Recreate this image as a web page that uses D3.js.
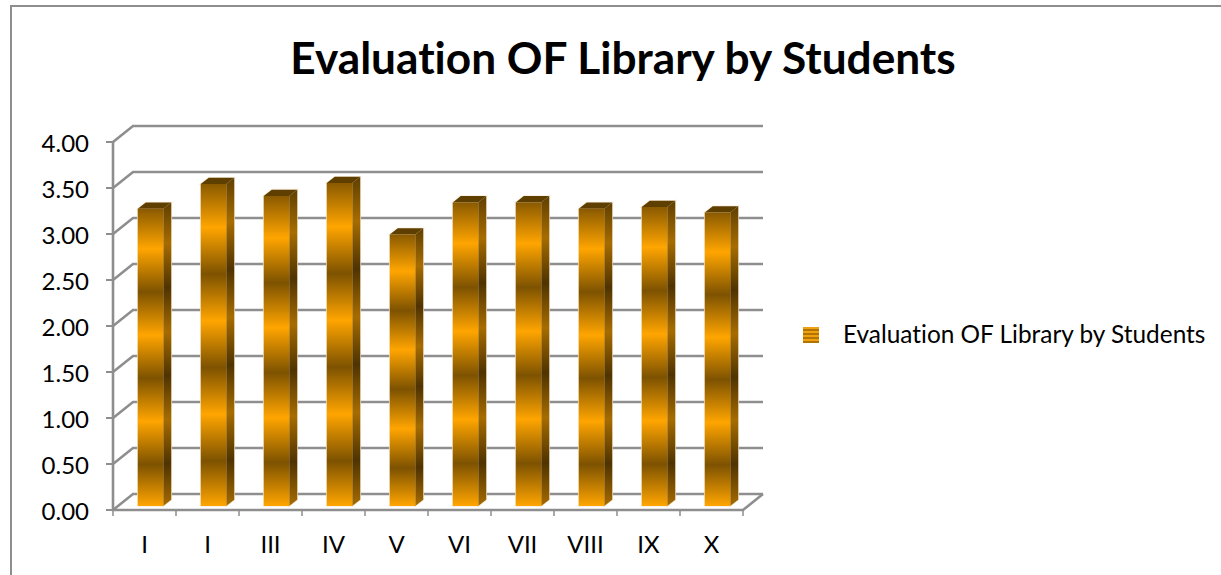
<!DOCTYPE html>
<html><head><meta charset="utf-8">
<script src="https://cdn.jsdelivr.net/npm/d3@7/dist/d3.min.js"></script>
<style>html,body{margin:0;padding:0;background:#fff}svg{display:block}text{font-family:Lato,"Open Sans",sans-serif;fill:#000;font-variant-ligatures:none}</style>
</head><body><div id="c"></div>
<script>
const categories = ["I","I","III","IV","V","VI","VII","VIII","IX","X"];
const values = [3.23,3.50,3.37,3.51,2.95,3.30,3.30,3.23,3.25,3.19];
const yTicks = [0,0.5,1,1.5,2,2.5,3,3.5,4];
const titleText = "Evaluation OF Library by Students";
const seriesName = "Evaluation OF Library by Students";

const W=1221,H=575;
const svg=d3.select("#c").append("svg").attr("width",W).attr("height",H);
const x=d3.scaleBand().domain(d3.range(categories.length)).range([113,743]);
const y=d3.scaleLinear().domain([0,4]).range([510,142]);
const depthX=20,depthY=-16,grey="#8e8e8e";

const defs=svg.append("defs");
const stopsFor=(id,dark,mid,light)=>{
  const g=defs.append("linearGradient").attr("id",id).attr("x1",0).attr("y1",0).attr("x2",0).attr("y2",1);
  [[0,mid],[.135,light],[.28,dark],[.425,light],[.57,dark],[.715,light],[.86,dark],[1,light]]
    .forEach(([o,c])=>g.append("stop").attr("offset",o).attr("stop-color",c));
};
stopsFor("front","#7d5200","#8a5a00","#ffa500");
stopsFor("side","#4f3300","#5f3f00","#a66c00");
const st=defs.append("pattern").attr("id","swatch").attr("patternUnits","userSpaceOnUse").attr("x",803).attr("y",327).attr("width",16).attr("height",4);
st.append("rect").attr("width",16).attr("height",4).attr("fill","#f0a010");
st.append("rect").attr("y",2).attr("width",16).attr("height",2).attr("fill","#b07400");

// chart frame (top and left edges visible)
svg.append("path").attr("d",`M11,575V6H${W}`).attr("fill","none").attr("stroke",grey).attr("stroke-width",2);

const g=svg.append("g");
yTicks.forEach(v=>{
  const yy=y(v);
  g.append("path").attr("fill","none").attr("stroke",grey).attr("stroke-width",2.6)
   .attr("d",`M113,${yy}L${113+depthX},${yy+depthY}H${743+depthX}`);
  g.append("line").attr("x1",106).attr("x2",113).attr("y1",yy).attr("y2",yy).attr("stroke",grey).attr("stroke-width",2);
});
g.append("path").attr("fill","none").attr("stroke",grey).attr("stroke-width",2.6)
 .attr("d",`M113,${y(4)}V${y(0)}H743L763,${y(0)+depthY}`);
d3.range(categories.length+1).forEach(i=>{
  const xx=i<categories.length?x(i):x.range()[1];
  g.append("line").attr("x1",xx).attr("x2",xx).attr("y1",y(0)).attr("y2",y(0)+6).attr("stroke",grey).attr("stroke-width",1.5);
});

// bars
const bw=25.5,dx=8,dy=-6.3,floorUp=4;
const bars=svg.append("g").selectAll("g").data(values).join("g");
const left=(d,i)=>x(i)+x.bandwidth()/2-bw/2+6;
const pts=a=>a.map(p=>p.join(",")).join(" ");
const sideP=(d,i)=>{const l=left(d,i)+bw,t=y(d)-floorUp,b=y(0)-floorUp;return pts([[l,t],[l+dx,t+dy],[l+dx,b+dy],[l,b]]);};
const topP=(d,i)=>{const l=left(d,i),t=y(d)-floorUp;return pts([[l,t],[l+dx,t+dy],[l+bw+dx,t+dy],[l+bw,t]]);};
const frontP=(d,i)=>{const l=left(d,i),t=y(d)-floorUp,b=y(0)-floorUp;return pts([[l,t],[l+bw,t],[l+bw,b],[l,b]]);};
// pale halo around each bar
[sideP,topP,frontP].forEach(f=>bars.append("polygon").attr("points",f).attr("fill","#f6ead6").attr("stroke","#f6ead6").attr("stroke-width",1.6).attr("stroke-opacity",.8));
bars.append("polygon").attr("fill","url(#side)").attr("points",sideP);
bars.append("polygon").attr("fill","#5f3f00").attr("points",topP);
bars.append("polygon").attr("fill","url(#front)").attr("points",frontP);

// labels
svg.append("g").selectAll("text").data(yTicks).join("text")
  .attr("x",89).attr("y",d=>y(d)).attr("text-anchor","end").attr("dominant-baseline","central")
  .attr("font-size",24).text(d=>d3.format(".2f")(d));
svg.append("g").selectAll("text").data(categories).join("text")
  .attr("x",(d,i)=>x(i)+x.bandwidth()/2).attr("y",553).attr("text-anchor","middle")
  .attr("font-size",24).text(d=>d);
svg.append("text").attr("x",623).attr("y",74).attr("text-anchor","middle").attr("font-size",44.2).attr("font-weight",700).text(titleText);
svg.append("rect").attr("x",803).attr("y",327).attr("width",16).attr("height",16).attr("fill","url(#swatch)");
svg.append("text").attr("x",843).attr("y",343).attr("font-size",24.4).text(seriesName);
</script></body></html>
